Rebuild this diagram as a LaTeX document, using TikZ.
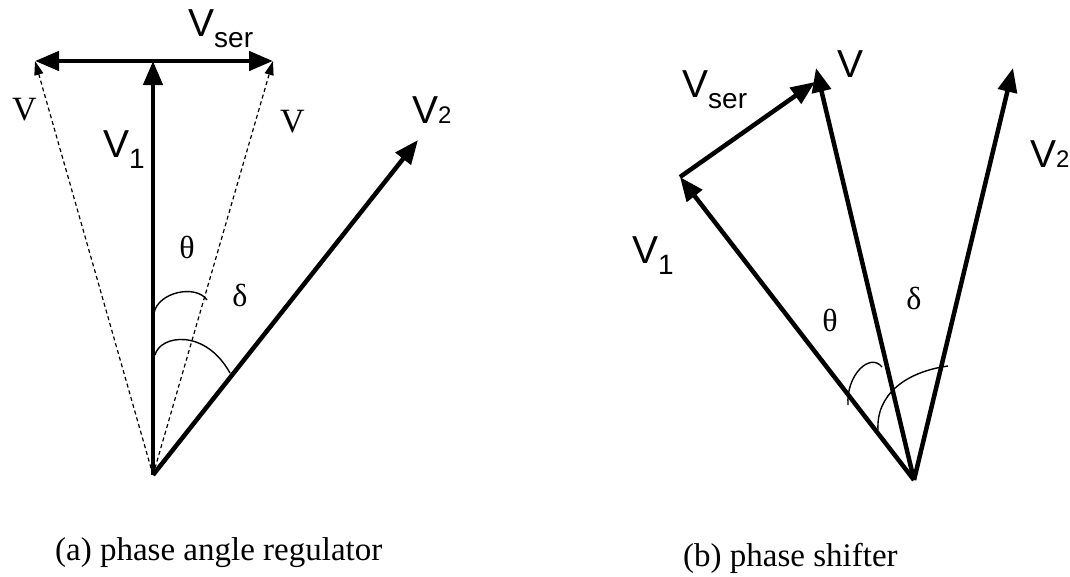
\documentclass[tikz,border=0pt]{standalone}
\usepackage{fontspec}
\setmainfont{Liberation Serif}
\setsansfont{Liberation Sans}
\usetikzlibrary{arrows.meta}
\newcommand\vsub[2]{#1\raisebox{-.3em}{\fontsize{28}{28}\selectfont #2}}

\begin{document}
\begin{tikzpicture}[x=1pt, y=-1pt,
  vec/.style={line width=4.5pt, -{Triangle[length=24pt, width=19pt]}},
  dvec/.style={line width=1.2pt, dash pattern=on 4pt off 3pt,
    -{Triangle[length=14pt, width=9pt]}},
  ang/.style={line width=1.4pt},
  lbl/.style={font=\fontsize{39}{39}\sffamily, inner sep=0pt, anchor=base west},
  slbl/.style={font=\fontsize{34}{34}\selectfont, inner sep=0pt, anchor=base west},
  glbl/.style={font=\fontsize{32}{32}\selectfont, inner sep=0pt},
  captxt/.style={font=\fontsize{33}{33}\selectfont, inner sep=0pt, anchor=base west}]
  \useasboundingbox (0,0) rectangle (1070,576);
  % (a) phase angle regulator
  \coordinate (oa) at (153,475);
  \coordinate (v1a) at (153,61);
  \coordinate (vla) at (35,61);
  \coordinate (vra) at (273,61);
  \coordinate (v2a) at (418,140);
  \draw[dvec] (oa) -- (vla);
  \draw[dvec] (oa) -- (vra);
  \draw[vec] (oa) -- (v1a);
  \draw[vec] (v1a) -- (vla);
  \draw[vec] (v1a) -- (vra);
  \draw[vec] (oa) -- (v2a);
  \draw[ang] (154,313) .. controls (158,292) and (196,284) .. (207,300);
  \draw[ang] (155,355) .. controls (160,335) and (205,328) .. (230,373);
  \node[slbl] (vlal) at (12,120) {V};
  \node[slbl] (vral) at (280,132) {V};
  \node[lbl] (v1al) at (103,157) {\vsub{V}{1}};
  \node[lbl] (vsal) at (188,36) {\vsub{V}{ser}};
  \node[lbl] (v2al) at (412,123) {V\fontsize{24}{24}\selectfont 2};
  \node[glbl] (tha) at (187,247) {θ};
  \node[glbl] (dea) at (240,295) {δ};
  \node[captxt] (capa) at (55,560) {(a) phase angle regulator};
  % (b) phase shifter
  \coordinate (ob) at (914,480);
  \coordinate (v1b) at (680,177);
  \coordinate (vsb) at (815,82);
  \coordinate (vb) at (816,68);
  \coordinate (v2b) at (1013,68);
  \draw[vec] (ob) -- (v1b);
  \draw[vec] (v1b) -- (vsb);
  \draw[vec] (ob) -- (vb);
  \draw[vec] (ob) -- (v2b);
  \draw[ang] (848,405) .. controls (846,375) and (870,352) .. (882,367);
  \draw[ang] (878,430) .. controls (876,395) and (905,372) .. (948,366);
  \node[lbl] (vbl) at (837,77) {V};
  \node[lbl] (vsbl) at (682,97) {\vsub{V}{ser}};
  \node[lbl] (v1bl) at (632,263) {\vsub{V}{1}};
  \node[lbl] (v2bl) at (1030,167) {V\fontsize{24}{24}\selectfont 2};
  \node[glbl] (thb) at (830,320) {θ};
  \node[glbl] (deb) at (914,298) {δ};
  \node[captxt] (capb) at (683,566) {(b) phase shifter};
\end{tikzpicture}
\end{document}
